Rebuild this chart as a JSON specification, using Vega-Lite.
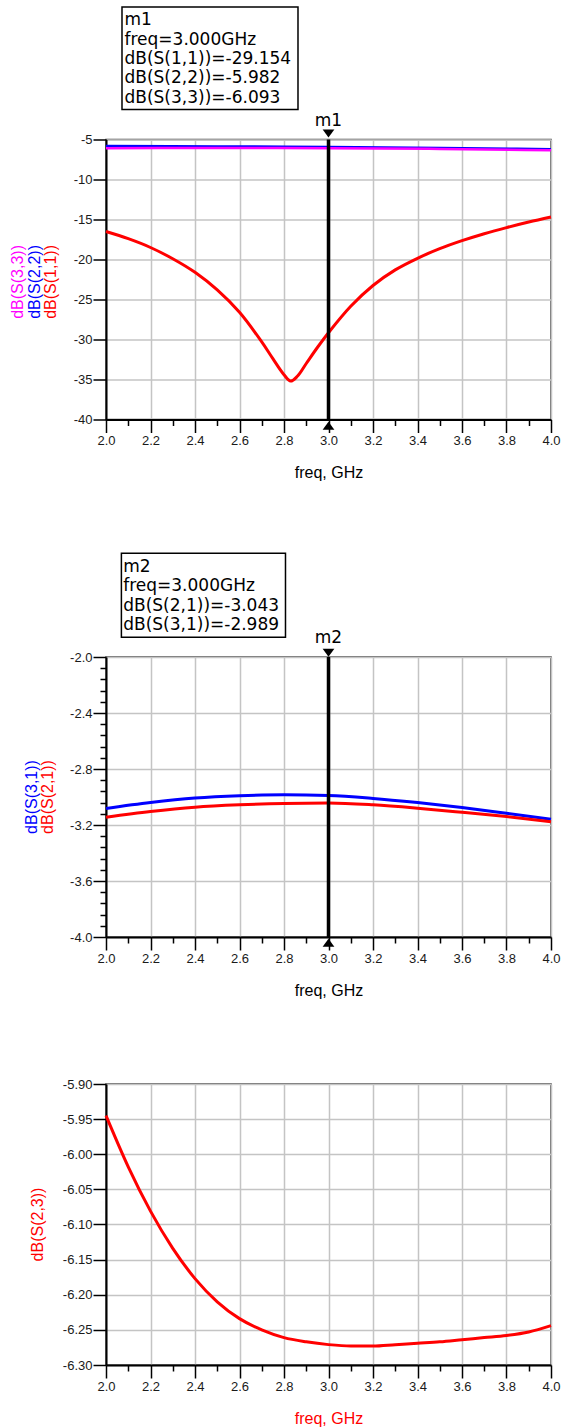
{
  "$schema": "https://vega.github.io/schema/vega-lite/v6.json",
  "background": "white",
  "padding": {"top": 4.5, "left": 8, "right": 8, "bottom": 0},
  "spacing": 69.5,
  "config": {
    "font": "Liberation Sans",
    "view": {"stroke": "#404040", "strokeWidth": 1.5},
    "axis": {
      "domainColor": "#000000", "domainWidth": 2,
      "tickColor": "#000000", "tickWidth": 1.5, "tickCount": 60,
      "labelFont": "Liberation Sans", "labelFontSize": 13, "labelColor": "#1a1a1a",
      "titleFont": "Liberation Sans", "titleFontSize": 16, "titleFontWeight": "normal", "titleColor": "#000000",
      "gridColor": "#c4c4c4", "gridWidth": 1.5
    }
  },
  "datasets": {
    "s11": [{"freq":2.0,"db":-16.5},{"freq":2.1,"db":-17.4},{"freq":2.2,"db":-18.5},{"freq":2.3,"db":-19.9},{"freq":2.4,"db":-21.6},{"freq":2.5,"db":-23.8},{"freq":2.6,"db":-26.6},{"freq":2.7,"db":-30.3},{"freq":2.75,"db":-32.4},{"freq":2.8,"db":-34.4},{"freq":2.83,"db":-35.2},{"freq":2.86,"db":-34.6},{"freq":2.9,"db":-33.0},{"freq":2.95,"db":-31.0},{"freq":3.0,"db":-29.15},{"freq":3.1,"db":-25.85},{"freq":3.2,"db":-23.25},{"freq":3.3,"db":-21.3},{"freq":3.4,"db":-19.85},{"freq":3.5,"db":-18.65},{"freq":3.6,"db":-17.65},{"freq":3.7,"db":-16.78},{"freq":3.8,"db":-16.01},{"freq":3.9,"db":-15.31},{"freq":4.0,"db":-14.68}],
    "s22": [{"freq":2.0,"db":-5.82},{"freq":2.5,"db":-5.86},{"freq":3.0,"db":-5.95},{"freq":3.5,"db":-6.06},{"freq":4.0,"db":-6.22}],
    "s33": [{"freq":2.0,"db":-6.08},{"freq":2.5,"db":-6.07},{"freq":3.0,"db":-6.09},{"freq":3.5,"db":-6.18},{"freq":4.0,"db":-6.35}],
    "s31": [{"freq":2.0,"db":-3.082},{"freq":2.2,"db":-3.04},{"freq":2.4,"db":-3.008},{"freq":2.6,"db":-2.991},{"freq":2.8,"db":-2.984},{"freq":3.0,"db":-2.989},{"freq":3.2,"db":-3.01},{"freq":3.4,"db":-3.04},{"freq":3.6,"db":-3.075},{"freq":3.8,"db":-3.116},{"freq":4.0,"db":-3.159}],
    "s21": [{"freq":2.0,"db":-3.145},{"freq":2.2,"db":-3.104},{"freq":2.4,"db":-3.073},{"freq":2.6,"db":-3.056},{"freq":2.8,"db":-3.046},{"freq":3.0,"db":-3.043},{"freq":3.2,"db":-3.056},{"freq":3.4,"db":-3.08},{"freq":3.6,"db":-3.109},{"freq":3.8,"db":-3.14},{"freq":4.0,"db":-3.176}],
    "s23": [{"freq":2.0,"db":-5.945},{"freq":2.1,"db":-6.018},{"freq":2.2,"db":-6.081},{"freq":2.3,"db":-6.134},{"freq":2.4,"db":-6.177},{"freq":2.5,"db":-6.21},{"freq":2.6,"db":-6.234},{"freq":2.7,"db":-6.25},{"freq":2.8,"db":-6.261},{"freq":2.9,"db":-6.267},{"freq":3.0,"db":-6.271},{"freq":3.1,"db":-6.273},{"freq":3.2,"db":-6.273},{"freq":3.3,"db":-6.271},{"freq":3.4,"db":-6.269},{"freq":3.5,"db":-6.267},{"freq":3.6,"db":-6.264},{"freq":3.7,"db":-6.261},{"freq":3.8,"db":-6.258},{"freq":3.9,"db":-6.253},{"freq":4.0,"db":-6.244}],
    "one": [{}]
  },
  "vconcat": [
    {
      "width": 445, "height": 280,
      "layer": [
        {
          "data": {"name": "s11"},
          "mark": {"type": "line", "color": "#ff0000", "strokeWidth": 3, "interpolate": "catmull-rom"},
          "encoding": {
            "x": {"field": "freq", "type": "quantitative", "scale": {"domain": [2, 4], "nice": false, "zero": false},
              "axis": {"values": [2,2.1,2.2,2.3,2.4,2.5,2.6,2.7,2.8,2.9,3,3.1,3.2,3.3,3.4,3.5,3.6,3.7,3.8,3.9,4],
                "labelExpr": "round(datum.value*10)%2==0 ? format(datum.value,'.1f') : ''",
                "tickSize": {"condition": {"test": "round(datum.value*10)%2==0", "value": 13}, "value": 6},
                "gridOpacity": {"condition": {"test": "round(datum.value*10)%2==0", "value": 1}, "value": 0},
                "labelPadding": 2, "labelFlush": false, "labelOverlap": false, "labelBound": false,
                "title": "freq, GHz", "titlePadding": 17}},
            "y": {"field": "db", "type": "quantitative", "scale": {"domain": [-40, -5], "nice": false, "zero": false},
              "axis": {"values": [-5,-10,-15,-20,-25,-30,-35,-40],
                "labelExpr": "replace(format(datum.value,'d'),'\u2212','-')",
                "tickSize": 13, "labelPadding": 1, "labelOverlap": false, "labelBound": false, "title": null}}
          }
        },
        {
          "data": {"name": "s22"},
          "mark": {"type": "line", "color": "#0000ff", "strokeWidth": 2.5, "interpolate": "monotone"},
          "encoding": {"x": {"field": "freq", "type": "quantitative"}, "y": {"field": "db", "type": "quantitative"}}
        },
        {
          "data": {"name": "s33"},
          "mark": {"type": "line", "color": "#ff00ff", "strokeWidth": 2.5, "interpolate": "monotone"},
          "encoding": {"x": {"field": "freq", "type": "quantitative"}, "y": {"field": "db", "type": "quantitative"}}
        },
        {
          "data": {"name": "one"},
          "mark": {"type": "rule", "color": "#000000", "strokeWidth": 3.5},
          "encoding": {"x": {"datum": 3}, "y": {"datum": -5}, "y2": {"datum": -40}}
        },
        {
          "data": {"name": "one"},
          "mark": {"type": "point", "shape": "M-1,-0.68L1,-0.68L0,0.68Z", "filled": true, "color": "#000000", "opacity": 1, "size": 137},
          "encoding": {"x": {"datum": 3}, "y": {"datum": -4.25}}
        },
        {
          "data": {"name": "one"},
          "mark": {"type": "point", "shape": "M-1,0.68L1,0.68L0,-0.68Z", "filled": true, "color": "#000000", "opacity": 1, "size": 137},
          "encoding": {"x": {"datum": 3}, "y": {"datum": -40.775}}
        },
        {
          "data": {"name": "one"},
          "mark": {"type": "text", "text": "m1", "font": "DejaVu Sans", "fontSize": 17, "align": "center", "baseline": "alphabetic", "color": "#000000"},
          "encoding": {"x": {"datum": 3}, "y": {"datum": -3.34}}
        },
        {
          "data": {"name": "one"},
          "mark": {"type": "rect", "fill": "#ffffff", "stroke": "#000000", "strokeWidth": 1.5},
          "encoding": {"x": {"datum": 2.0719}, "x2": {"datum": 2.8629}, "y": {"datum": 11.575}, "y2": {"datum": -1.25}}
        },
        {
          "data": {"name": "one"},
          "mark": {"type": "text", "text": ["m1", "freq=3.000GHz", "dB(S(1,1))=-29.154", "dB(S(2,2))=-5.982", "dB(S(3,3))=-6.093"],
            "font": "DejaVu Sans", "fontSize": 17, "lineHeight": 19.4, "align": "left", "baseline": "alphabetic", "color": "#000000"},
          "encoding": {"x": {"datum": 2.083}, "y": {"datum": 9.2875}}
        },
        {
          "data": {"name": "one"},
          "mark": {"type": "text", "text": "dB(S(3,3))", "angle": 270, "fontSize": 16, "align": "center", "baseline": "middle", "color": "#ff00ff"},
          "encoding": {"x": {"datum": 1.603}, "y": {"datum": -22.8}}
        },
        {
          "data": {"name": "one"},
          "mark": {"type": "text", "text": "dB(S(2,2))", "angle": 270, "fontSize": 16, "align": "center", "baseline": "middle", "color": "#0000ff"},
          "encoding": {"x": {"datum": 1.68}, "y": {"datum": -22.8}}
        },
        {
          "data": {"name": "one"},
          "mark": {"type": "text", "text": "dB(S(1,1))", "angle": 270, "fontSize": 16, "align": "center", "baseline": "middle", "color": "#ff0000"},
          "encoding": {"x": {"datum": 1.754}, "y": {"datum": -22.8}}
        }
      ]
    },
    {
      "bounds": "flush",
      "spacing": 147,
      "vconcat": [
        {
          "width": 445, "height": 280,
          "layer": [
            {
              "data": {"name": "s31"},
              "mark": {"type": "line", "color": "#0000ff", "strokeWidth": 3, "interpolate": "monotone"},
              "encoding": {
                "x": {"field": "freq", "type": "quantitative", "scale": {"domain": [2, 4], "nice": false, "zero": false},
                  "axis": {"values": [2,2.1,2.2,2.3,2.4,2.5,2.6,2.7,2.8,2.9,3,3.1,3.2,3.3,3.4,3.5,3.6,3.7,3.8,3.9,4],
                    "labelExpr": "round(datum.value*10)%2==0 ? format(datum.value,'.1f') : ''",
                    "tickSize": {"condition": {"test": "round(datum.value*10)%2==0", "value": 13}, "value": 6},
                    "gridOpacity": {"condition": {"test": "round(datum.value*10)%2==0", "value": 1}, "value": 0},
                    "labelPadding": 2, "labelFlush": false, "labelOverlap": false, "labelBound": false,
                    "title": "freq, GHz", "titlePadding": 17}},
                "y": {"field": "db", "type": "quantitative", "scale": {"domain": [-4, -2], "nice": false, "zero": false},
                  "axis": {"values": [-2,-2.08,-2.16,-2.24,-2.32,-2.4,-2.48,-2.56,-2.64,-2.72,-2.8,-2.88,-2.96,-3.04,-3.12,-3.2,-3.28,-3.36,-3.44,-3.52,-3.6,-3.68,-3.76,-3.84,-3.92,-4],
                    "labelExpr": "abs(round(datum.value*100))%40==0 ? replace(format(datum.value,'.1f'),'\u2212','-') : ''",
                    "tickSize": {"condition": {"test": "abs(round(datum.value*100))%40==0", "value": 13}, "value": 6},
                    "gridOpacity": {"condition": {"test": "abs(round(datum.value*100))%40==0", "value": 1}, "value": 0},
                    "labelPadding": 1, "labelOverlap": false, "labelBound": false, "title": null}}
              }
            },
            {
              "data": {"name": "s21"},
              "mark": {"type": "line", "color": "#ff0000", "strokeWidth": 3, "interpolate": "monotone"},
              "encoding": {"x": {"field": "freq", "type": "quantitative"}, "y": {"field": "db", "type": "quantitative"}}
            },
            {
              "data": {"name": "one"},
              "mark": {"type": "rule", "color": "#000000", "strokeWidth": 3.5},
              "encoding": {"x": {"datum": 3}, "y": {"datum": -2}, "y2": {"datum": -4}}
            },
            {
              "data": {"name": "one"},
              "mark": {"type": "point", "shape": "M-1,-0.68L1,-0.68L0,0.68Z", "filled": true, "color": "#000000", "opacity": 1, "size": 137},
              "encoding": {"x": {"datum": 3}, "y": {"datum": -1.97}}
            },
            {
              "data": {"name": "one"},
              "mark": {"type": "point", "shape": "M-1,0.68L1,0.68L0,-0.68Z", "filled": true, "color": "#000000", "opacity": 1, "size": 137},
              "encoding": {"x": {"datum": 3}, "y": {"datum": -4.0414}}
            },
            {
              "data": {"name": "one"},
              "mark": {"type": "text", "text": "m2", "font": "DejaVu Sans", "fontSize": 17, "align": "center", "baseline": "alphabetic", "color": "#000000"},
              "encoding": {"x": {"datum": 3}, "y": {"datum": -1.902}}
            },
            {
              "data": {"name": "one"},
              "mark": {"type": "rect", "fill": "#ffffff", "stroke": "#000000", "strokeWidth": 1.5},
              "encoding": {"x": {"datum": 2.0692}, "x2": {"datum": 2.8067}, "y": {"datum": -1.2593}, "y2": {"datum": -1.8593}}
            },
            {
              "data": {"name": "one"},
              "mark": {"type": "text", "text": ["m2", "freq=3.000GHz", "dB(S(2,1))=-3.043", "dB(S(3,1))=-2.989"],
                "font": "DejaVu Sans", "fontSize": 17, "lineHeight": 19.6, "align": "left", "baseline": "alphabetic", "color": "#000000"},
              "encoding": {"x": {"datum": 2.0773}, "y": {"datum": -1.3907}}
            },
            {
              "data": {"name": "one"},
              "mark": {"type": "text", "text": "dB(S(3,1))", "angle": 270, "fontSize": 16, "align": "center", "baseline": "middle", "color": "#0000ff"},
              "encoding": {"x": {"datum": 1.6656}, "y": {"datum": -3.0}}
            },
            {
              "data": {"name": "one"},
              "mark": {"type": "text", "text": "dB(S(2,1))", "angle": 270, "fontSize": 16, "align": "center", "baseline": "middle", "color": "#ff0000"},
              "encoding": {"x": {"datum": 1.738}, "y": {"datum": -3.0}}
            }
          ]
        },
        {
          "width": 445, "height": 281,
          "layer": [
            {
              "data": {"name": "s23"},
              "mark": {"type": "line", "color": "#ff0000", "strokeWidth": 3, "interpolate": "monotone"},
              "encoding": {
                "x": {"field": "freq", "type": "quantitative", "scale": {"domain": [2, 4], "nice": false, "zero": false},
                  "axis": {"values": [2,2.1,2.2,2.3,2.4,2.5,2.6,2.7,2.8,2.9,3,3.1,3.2,3.3,3.4,3.5,3.6,3.7,3.8,3.9,4],
                    "labelExpr": "round(datum.value*10)%2==0 ? format(datum.value,'.1f') : ''",
                    "tickSize": {"condition": {"test": "round(datum.value*10)%2==0", "value": 13}, "value": 6},
                    "gridOpacity": {"condition": {"test": "round(datum.value*10)%2==0", "value": 1}, "value": 0},
                    "labelPadding": 2, "labelFlush": false, "labelOverlap": false, "labelBound": false,
                    "title": "freq, GHz", "titleColor": "#ff0000", "titlePadding": 17}},
                "y": {"field": "db", "type": "quantitative", "scale": {"domain": [-6.3, -5.9], "nice": false, "zero": false},
                  "axis": {"values": [-5.9,-5.95,-6,-6.05,-6.1,-6.15,-6.2,-6.25,-6.3],
                    "labelExpr": "replace(format(datum.value,'.2f'),'\u2212','-')",
                    "tickSize": 13, "labelPadding": 1, "labelOverlap": false, "labelBound": false, "title": null}}
              }
            },
            {
              "data": {"name": "one"},
              "mark": {"type": "text", "text": "dB(S(2,3))", "angle": 270, "fontSize": 16, "align": "center", "baseline": "middle", "color": "#ff0000"},
              "encoding": {"x": {"datum": 1.6935}, "y": {"datum": -6.1}}
            }
          ]
        }
      ]
    }
  ]
}
